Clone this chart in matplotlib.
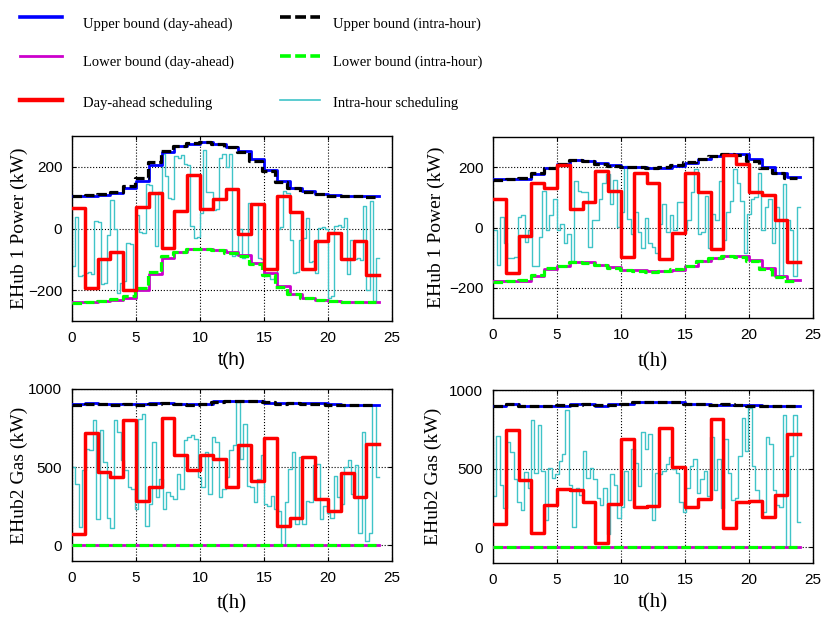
import numpy as np
import matplotlib
matplotlib.use("Agg")
import matplotlib.pyplot as plt
from matplotlib.lines import Line2D

# ---------------- data ----------------
hours = np.arange(24)

# EHub1 power, case 1 (top left)
p1_upper_da = [107, 107, 110, 115, 132, 153, 207, 247, 267, 275, 280, 275,
               265, 250, 224, 191, 153, 132, 121, 113, 108, 105, 105, 105]
p1_lower_da = [-238, -238, -236, -232, -225, -198, -149, -95, -77, -68, -66, -70,
               -77, -87, -111, -144, -187, -211, -225, -232, -235, -238, -238, -238]
p1_upper_ih = [105, 108, 112, 120, 138, 165, 215, 250, 268, 277, 280, 274,
               263, 247, 220, 186, 150, 130, 120, 112, 107, 104, 104, 103]
p1_lower_ih = [-240, -238, -235, -230, -220, -192, -140, -90, -75, -67, -66, -71,
               -79, -90, -115, -150, -190, -213, -226, -233, -236, -238, -239, -239]
p1_da = [65, -192, -100, -77, -200, 69, 116, -63, 58, 173, 62, 96,
         129, -17, 80, -131, 107, 55, -131, -41, -14, -98, -41, -152]
p1_ih = [-122, 37, -154, -150, -144, -140, -146, 24, 20, -181, -178, -20,
         94, -3, -208, -176, -170, -46, -50, -203, 45, -10, -15, 143,
         140, 116, -57, 120, 240, 170, 100, 95, 235, 230, 238, 210,
         205, 8, -30, -28, 50, 256, 120, 118, 60, 62, 229, 240,
         200, 240, -90, -85, 0, -95, -92, 83, 80, 78, -95, -98,
         -154, -150, -165, -160, 0, 5, 121, 116, -36, -144, -140, -36,
         -30, 35, -110, -105, -144, 2, 5, 0, -225, -220, 8, 10,
         5, 35, -149, -36, -100, -96, -102, 72, -198, 89, -235, -95]

# EHub1 power, case 2 (top right)
p2_upper_da = [160, 160, 160, 177, 196, 209, 223, 222, 213, 206, 200, 200,
               198, 198, 204, 215, 226, 236, 242, 242, 226, 200, 182, 166]
p2_lower_da = [-178, -178, -178, -161, -137, -129, -116, -116, -123, -132, -140, -142,
               -145, -145, -140, -129, -112, -101, -96, -96, -109, -134, -161, -174]
p2_upper_ih = [158, 160, 163, 180, 198, 212, 224, 220, 211, 205, 201, 199,
               197, 199, 206, 217, 228, 237, 243, 240, 222, 197, 180, 165]
p2_lower_ih = [-180, -177, -175, -158, -135, -127, -115, -118, -125, -133, -141, -143,
               -146, -144, -138, -127, -110, -100, -95, -98, -112, -137, -163, -176]
p2_da = [93, -150, -28, 149, 130, 207, 60, 84, 187, 120, -98, 182,
         149, -105, -17, 182, 117, -72, 239, 209, 119, 109, 24, -116]
p2_ih = [-9, -123, 35, -52, -100, -100, -98, 35, 40, -47, -9, -128,
         -128, -30, 122, -9, 40, 95, -9, 13, -52, -20, -112, 155,
         122, 117, 117, -63, 24, 24, 95, 149, 177, 78, 157, 2,
         51, 204, 29, -20, 51, -14, -69, 33, -52, -63, -85, 13,
         78, -14, 40, -9, 84, 84, -9, 24, 117, 193, -20, -15,
         106, -69, 46, 24, 155, -41, 51, 89, 193, 149, 89, -85,
         46, 95, 100, 182, -9, 68, 95, -52, 68, -161, 144, 24,
         -9, -161, 68]

# EHub2 gas, case 1 (bottom left)
g1_upper_da = [901, 908, 901, 901, 901, 901, 908, 908, 901, 901, 901, 923,
               923, 923, 923, 912, 908, 908, 908, 908, 901, 899, 899, 899]
g1_upper_ih = [899, 905, 903, 900, 902, 899, 905, 910, 903, 900, 902, 920,
               925, 924, 922, 914, 906, 909, 907, 905, 900, 897, 898, 898]
g1_lower_da = [0] * 24
g1_lower_ih = [0] * 24
g1_da = [71, 721, 472, 436, 800, 285, 371, 815, 575, 485, 579, 554,
         371, 640, 414, 689, 124, 178, 564, 296, 221, 463, 311, 650]
g1_ih = [500, 393, 118, 479, 618, 607, 800, 167, 736, 532, 178, 114,
         800, 725, 543, 479, 371, 360, 232, 811, 843, 124, 264, 661,
         307, 425, 232, 339, 318, 296, 457, 360, 672, 693, 704, 682,
         436, 371, 597, 328, 693, 661, 307, 360, 436, 607, 640, 918,
         554, 779, 382, 371, 275, 425, 575, 264, 253, 318, 232, 221,
         2, 275, 489, 597, 135, 564, 135, 285, 275, 511, 522, 167,
         253, 210, 178, 446, 307, 264, 500, 543, 328, 511, 82, 725,
         28, 82, 897, 440]

# EHub2 gas, case 2 (bottom right)
g2_upper_da = [900, 911, 898, 898, 898, 900, 909, 909, 900, 909, 909, 924,
               924, 924, 924, 911, 911, 907, 907, 907, 903, 898, 898, 898]
g2_upper_ih = [898, 908, 900, 896, 899, 902, 907, 910, 902, 906, 910, 921,
               926, 925, 923, 913, 909, 905, 908, 906, 901, 897, 898, 897]
g2_lower_da = [0] * 24
g2_lower_ih = [0] * 24
g2_da = [151, 748, 427, 91, 269, 371, 366, 291, 28, 274, 690, 254,
         263, 761, 513, 254, 308, 815, 123, 287, 297, 190, 334, 722]
g2_ih = [323, 705, 399, 248, 668, 603, 431, 291, 237, 481, 377, 812,
         474, 776, 485, 172, 506, 442, 463, 549, 593, 873, 399, 129,
         377, 334, 614, 442, 506, 431, 312, 269, 377, 86, 463, 399,
         183, 259, 485, 302, 625, 539, 388, 733, 625, 722, 172, 474,
         463, 485, 528, 575, 496, 474, 291, 226, 377, 517, 560, 345,
         431, 485, 323, 700, 366, 560, 248, 690, 474, 302, 312, 582,
         819, 614, 884, 517, 366, 302, 226, 700, 657, 366, 269, 259,
         841, 0, 582, 841, 162]

legend_labels = ["Upper bound (day-ahead)", "Lower bound (day-ahead)",
                 "Day-ahead scheduling", "Upper bound (intra-hour)",
                 "Lower bound (intra-hour)", "Intra-hour scheduling"]

# ---------------- styles ----------------
C_BLUE, C_MAG, C_RED = "#0000ff", "#cc00cc", "#ff0000"
C_BLACK, C_GREEN, C_CYAN = "#000000", "#00ff00", "#40c4c8"
DASH = (0, (3, 1.2))
serif = "Liberation Serif"
sans = "Liberation Sans"

W, H = 824, 623
fig = plt.figure(figsize=(W / 100, H / 100), dpi=100)


def ax_at(left, top, right, bottom):
    return fig.add_axes([left / W, 1 - bottom / H, (right - left) / W, (bottom - top) / H])


def stairs(ax, vals, end, **kw):
    vals = np.asarray(vals, dtype=float)
    edges = np.linspace(0, end, len(vals) + 1)
    ax.step(edges, np.append(vals, vals[-1]), where="post", **kw)


def panel(ax, up_da, lo_da, up_ih, lo_ih, da, ih):
    stairs(ax, ih, 24, color=C_CYAN, lw=1.0, zorder=2)
    stairs(ax, up_da, 24, color=C_BLUE, lw=2.0, zorder=3)
    stairs(ax, lo_da, 24, color=C_MAG, lw=2.0, zorder=3)
    stairs(ax, up_ih, 23.75, color=C_BLACK, lw=2.3, ls=DASH, zorder=4)
    stairs(ax, lo_ih, 23.75, color=C_GREEN, lw=2.3, ls=DASH, zorder=4)
    stairs(ax, da, 24, color=C_RED, lw=2.5, zorder=5)
    ax.set_xlim(0, 25)
    ax.set_xticks(range(0, 26, 5))
    ax.grid(True, color="black", ls=":", lw=0.8)
    ax.tick_params(direction="in", top=True, right=True, length=3,
                   labelsize=11, pad=7)
    for s in ax.spines.values():
        s.set_linewidth(1.0)


ax1 = ax_at(72, 136, 392, 321)
panel(ax1, p1_upper_da, p1_lower_da, p1_upper_ih, p1_lower_ih, p1_da, p1_ih)
ax1.set_ylim(-300, 300)
ax1.set_yticks([-200, 0, 200])

ax2 = ax_at(493, 137, 813, 318)
panel(ax2, p2_upper_da, p2_lower_da, p2_upper_ih, p2_lower_ih, p2_da, p2_ih)
ax2.set_ylim(-300, 300)
ax2.set_yticks([-200, 0, 200])

ax3 = ax_at(72, 389, 392, 561)
panel(ax3, g1_upper_da, g1_lower_da, g1_upper_ih, g1_lower_ih, g1_da, g1_ih)
ax3.set_ylim(-100, 1000)
ax3.set_yticks([0, 500, 1000])

ax4 = ax_at(493, 390, 813, 563)
panel(ax4, g2_upper_da, g2_lower_da, g2_upper_ih, g2_lower_ih, g2_da, g2_ih)
ax4.set_ylim(-100, 1000)
ax4.set_yticks([0, 500, 1000])

for ax in (ax1, ax2, ax3, ax4):
    for lab in ax.get_xticklabels() + ax.get_yticklabels():
        lab.set_family(sans)

ylab = [(ax1, "EHub 1 Power (kW)", -0.165), (ax2, "EHub 1 Power (kW)", -0.176),
        (ax3, "EHub2 Gas (kW)", -0.165), (ax4, "EHub2 Gas (kW)", -0.185)]
for ax, txt, xc in ylab:
    ax.set_ylabel(txt, family=serif, fontsize=14, va="center")
    ax.yaxis.set_label_coords(xc, 0.5)

xlab = [(ax1, -0.216, sans, 13.5), (ax2, -0.243, serif, 15),
        (ax3, -0.25, serif, 15), (ax4, -0.231, serif, 15)]
for ax, yc, fam, fs in xlab:
    ax.set_xlabel("t(h)", family=fam, fontsize=fs, va="center")
    ax.xaxis.set_label_coords(0.5, yc)

# ---------------- legend drawn above the panels ----------------
leg_style = [dict(color=C_BLUE, lw=2.6), dict(color=C_MAG, lw=2.0),
             dict(color=C_RED, lw=3.2), dict(color=C_BLACK, lw=2.6, ls=DASH),
             dict(color=C_GREEN, lw=2.6, ls=DASH), dict(color=C_CYAN, lw=1.2)]
rows_line = [17, 56, 100]
rows_text = [24, 62, 103]
cols = [(20, 62, 83), (280, 320, 333)]
for i, (lab, st) in enumerate(zip(legend_labels, leg_style)):
    c, r = divmod(i, 3)
    x0, x1, xt = cols[c]
    yl = 1 - rows_line[r] / H
    fig.add_artist(Line2D([x0 / W, x1 / W], [yl, yl], transform=fig.transFigure, **st))
    fig.text(xt / W, 1 - rows_text[r] / H, lab, family=serif, fontsize=10.5,
             va="center", ha="left")

fig.savefig("out.png", dpi=100)
